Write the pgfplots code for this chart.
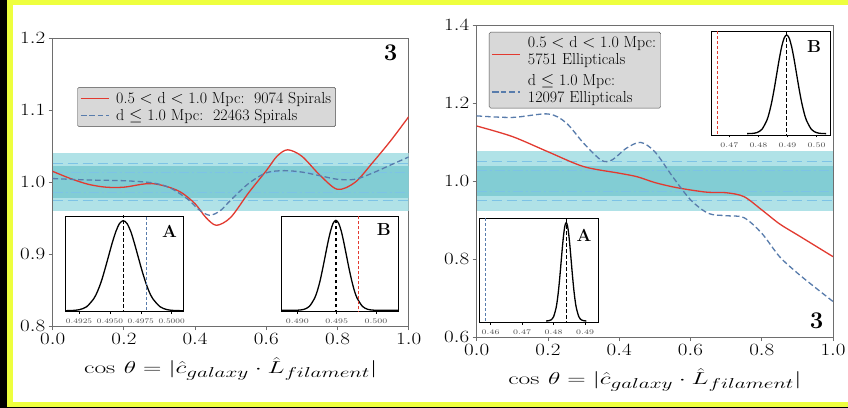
\documentclass[border=0pt]{standalone}
\usepackage{graphicx}
\usepackage{pgfplots}
\pgfplotsset{compat=1.18}
\usepackage{amsmath}
\definecolor{frameY}{HTML}{EEFF3E}
\definecolor{cRed}{RGB}{226,58,48}
\definecolor{cBlue}{RGB}{88,124,172}
\definecolor{bandOut}{RGB}{176,226,231}
\definecolor{bandIn}{RGB}{130,205,212}
\definecolor{bandLine}{RGB}{125,195,230}
\definecolor{axGray}{RGB}{110,110,110}
\definecolor{legFill}{RGB}{216,216,216}
\pgfplotsset{
  mainax/.style={scale only axis, xmin=0, xmax=1, clip=true,
    axis line style={axGray, line width=0.9bp},
    tick style={axGray, line width=0.9bp}, tick align=outside, major tick length=4bp,
    xtick pos=bottom, ytick pos=left,
    xtick={0,0.2,0.4,0.6,0.8,1.0},
    tick label style={font=\fontsize{17.5}{19}\selectfont, black},
    xticklabel={\scalebox{1.22}[1]{$\pgfmathprintnumber[fixed,fixed zerofill,precision=1]{\tick}$}},
    yticklabel={\scalebox{1.22}[1]{$\pgfmathprintnumber[fixed,fixed zerofill,precision=1]{\tick}$}},
    xlabel={\scalebox{1.48}[1]{$\cos\,\theta = |\hat{c}_{galaxy}\cdot\hat{L}_{filament}|$}},
    xlabel style={font=\fontsize{19}{21}\selectfont, yshift=-6bp},
    axis background/.style={fill=white},
    legend cell align=left,
    legend style={fill=legFill, draw=black!70, rounded corners=1.5pt,
      font=\fontsize{16}{16.5}\selectfont, inner sep=2.5pt, row sep=1pt,
      cells={align=left},
      /tikz/every odd column/.append style={column sep=5bp}},
  },
  inset/.style={scale only axis, clip=true,
    axis line style={black, line width=0.8bp},
    ytick=\empty, tick align=outside, xtick pos=bottom, major tick length=2.5bp,
    tick style={black, line width=0.6bp},
    tick label style={font=\fontsize{7.2}{8}\selectfont, black!70},
    xticklabel style={yshift=-1.5bp},
    axis background/.style={fill=white},
  },
  gcurve/.style={black, line width=1.3bp, smooth},
  peakline/.style={black, line width=1.3bp, dash pattern=on 3.5bp off 2.5bp},
  outband/.style={fill=bandOut, draw=none},
  inband/.style={fill=bandIn, draw=none},
  dline/.style={bandLine, line width=0.8bp, dash pattern=on 10bp off 5bp},
  ddline/.style={bandLine, line width=0.8bp, dash pattern=on 10bp off 3bp on 2bp off 3bp},
}
\begin{document}
\begin{tikzpicture}
\path[use as bounding box] (0bp,0bp) rectangle (848bp,408bp);
\fill[black] (0bp,0bp) rectangle (848bp,408bp);
\fill[frameY] (7bp,1bp) rectangle (848bp,408bp);
\fill[white] (13bp,6bp) rectangle (848bp,403bp);

% ---------------- left main panel
\begin{axis}[mainax, at={(52.7bp,82bp)}, anchor=south west, width=356bp, height=287.7bp,
  ymin=0.8, ymax=1.2, ytick={0.8,0.9,1.0,1.1,1.2},
  legend image code/.code={\draw[mark repeat=2,mark phase=2,#1,line width=1.3bp] plot coordinates {(0bp,0bp) (14bp,0bp) (28bp,0bp)};},
  legend style={at={(0.069,0.83)}, anchor=north west}]
\addplot[outband, forget plot] coordinates {(0,0.96) (1,0.96) (1,1.04) (0,1.04)} -- cycle;
\addplot[inband, forget plot] coordinates {(0,0.978) (1,0.978) (1,1.022) (0,1.022)} -- cycle;
\addplot[dline, forget plot] coordinates {(0,1.026) (1,1.026)};
\addplot[dline, forget plot] coordinates {(0,0.974) (1,0.974)};
\addplot[ddline, forget plot] coordinates {(0,1.0136) (1,1.0136)};
\addplot[ddline, forget plot] coordinates {(0,0.986) (1,0.986)};
\addplot[cRed, line width=1.3bp, smooth] coordinates {
 (0,1.015) (0.05,1.005) (0.1,0.997) (0.15,0.993) (0.2,0.993) (0.25,0.997) (0.28,0.998)
 (0.32,0.994) (0.36,0.986) (0.4,0.97) (0.43,0.951) (0.46,0.94) (0.5,0.951) (0.55,0.985)
 (0.6,1.016) (0.63,1.036) (0.66,1.045) (0.7,1.036) (0.75,1.010) (0.8,0.990) (0.85,1.0)
 (0.9,1.028) (0.95,1.058) (1.0,1.091)};
\addlegendentry{0.5 $<$ d $<$ 1.0 Mpc:\ \ 9074 Spirals}
\addplot[cBlue, line width=1.3bp, smooth, dash pattern=on 5.5bp off 3bp] coordinates {
 (0,1.005) (0.1,1.003) (0.2,1.002) (0.28,0.999) (0.33,0.992) (0.38,0.976) (0.41,0.962)
 (0.44,0.954) (0.47,0.96) (0.5,0.975) (0.55,0.998) (0.6,1.013) (0.65,1.016) (0.7,1.014)
 (0.75,1.009) (0.8,1.004) (0.85,1.004) (0.9,1.013) (0.95,1.024) (1.0,1.035)};
\addlegendentry{d $\leq$ 1.0 Mpc:\ \ 22463 Spirals}
\node[font=\bfseries\fontsize{24}{24}\selectfont] at (rel axis cs:0.949,0.95) {3};
\end{axis}

% inset A (left)
\begin{axis}[inset, at={(65.7bp,96.3bp)}, anchor=south west, width=117.6bp, height=95.7bp,
  xmin=0.49142, xmax=0.50094, ymin=-0.011, ymax=1.052,
  xtick={0.4925,0.4950,0.4975,0.5000},
  xticklabel={\scalebox{1.18}[1]{$\pgfmathprintnumber[fixed,fixed zerofill,precision=4]{\tick}$}}]
\addplot[gcurve] coordinates {
 (0.49132,0.0003) (0.49192,0.0022) (0.49251,0.0111) (0.49311,0.0439) (0.49370,0.1353)
 (0.49400,0.2163) (0.49430,0.3247) (0.49459,0.4578) (0.49489,0.6065) (0.49519,0.7548)
 (0.49549,0.8825) (0.49578,0.9692) (0.49608,1) (0.49638,0.9692) (0.49668,0.8825)
 (0.49697,0.7548) (0.49727,0.6065) (0.49757,0.4578) (0.49787,0.3247) (0.49816,0.2163)
 (0.49846,0.1353) (0.49906,0.0439) (0.49965,0.0111) (0.50025,0.0022) (0.50084,0.0003) (0.5012,0)};
\addplot[peakline] coordinates {(0.49608,-0.1) (0.49608,1.1)};
\addplot[cBlue, line width=1.1bp, dash pattern=on 3bp off 2bp] coordinates {(0.49798,-0.1) (0.49798,1.1)};
\node[font=\bfseries\fontsize{17.5}{17.5}\selectfont] at (rel axis cs:0.883,0.843) {A};
\end{axis}

% inset B (left)
\begin{axis}[inset, at={(281bp,96.7bp)}, anchor=south west, width=117.3bp, height=95bp,
  xmin=0.48792, xmax=0.50284, ymin=-0.011, ymax=1.045,
  xtick={0.490,0.495,0.500},
  xticklabel={\scalebox{1.25}[1]{$\pgfmathprintnumber[fixed,fixed zerofill,precision=3]{\tick}$}}]
\addplot[gcurve] coordinates {
 (0.4875,0) (0.4895,0.0003) (0.49018,0.0022) (0.49085,0.0111) (0.49153,0.0439) (0.4922,0.1353)
 (0.49254,0.2163) (0.49288,0.3247) (0.49321,0.4578) (0.49355,0.6065) (0.49389,0.7548)
 (0.49423,0.8825) (0.49456,0.9692) (0.4949,1) (0.49524,0.9692) (0.49558,0.8825)
 (0.49591,0.7548) (0.49625,0.6065) (0.49659,0.4578) (0.49693,0.3247) (0.49726,0.2163)
 (0.4976,0.1353) (0.49828,0.0439) (0.49895,0.0111) (0.49963,0.0022) (0.5003,0.0003) (0.5032,0)};
\addplot[peakline] coordinates {(0.4949,-0.1) (0.4949,1.1)};
\addplot[cRed, line width=1.1bp, dash pattern=on 3bp off 2bp] coordinates {(0.4978,-0.1) (0.4978,1.1)};
\node[font=\bfseries\fontsize{17.5}{17.5}\selectfont] at (rel axis cs:0.876,0.857) {B};
\end{axis}

% ---------------- right main panel
\begin{axis}[mainax, at={(476.7bp,71bp)}, anchor=south west, width=356.3bp, height=312bp,
  ymin=0.6, ymax=1.4, ytick={0.6,0.8,1.0,1.2,1.4},
  legend image code/.code={\draw[mark repeat=2,mark phase=2,#1,line width=1.3bp] plot coordinates {(0bp,-3bp) (14bp,-3bp) (28bp,-3bp)};},
  legend style={at={(0.0345,0.9776)}, anchor=north west, row sep=5pt}]
\addplot[outband, forget plot] coordinates {(0,0.924) (1,0.924) (1,1.076) (0,1.076)} -- cycle;
\addplot[inband, forget plot] coordinates {(0,0.962) (1,0.962) (1,1.039) (0,1.039)} -- cycle;
\addplot[dline, forget plot] coordinates {(0,1.05) (1,1.05)};
\addplot[dline, forget plot] coordinates {(0,0.949) (1,0.949)};
\addplot[ddline, forget plot] coordinates {(0,1.026) (1,1.026)};
\addplot[ddline, forget plot] coordinates {(0,0.973) (1,0.973)};
\addplot[cRed, line width=1.3bp, smooth] coordinates {
 (0,1.141) (0.1,1.114) (0.2,1.075) (0.3,1.037) (0.4,1.02) (0.45,1.011) (0.5,0.996)
 (0.55,0.985) (0.6,0.977) (0.65,0.971) (0.7,0.970) (0.75,0.96) (0.8,0.926) (0.85,0.89)
 (0.9,0.862) (0.95,0.834) (1.0,0.806)};
\addlegendentry{0.5 $<$ d $<$ 1.0 Mpc:\\5751 Ellipticals}
\addplot[cBlue, line width=1.3bp, smooth, dash pattern=on 5.5bp off 3bp] coordinates {
 (0,1.167) (0.1,1.163) (0.2,1.172) (0.25,1.150) (0.3,1.097) (0.35,1.053) (0.38,1.054)
 (0.42,1.084) (0.46,1.099) (0.5,1.075) (0.55,1.011) (0.6,0.952) (0.65,0.917) (0.7,0.911)
 (0.75,0.906) (0.8,0.866) (0.85,0.806) (0.9,0.764) (0.95,0.727) (1.0,0.691)};
\addlegendentry{d $\leq$ 1.0 Mpc:\\12097 Ellipticals}
\node[font=\bfseries\fontsize{24}{24}\selectfont] at (rel axis cs:0.954,0.053) {3};
\end{axis}

% inset A (right)
\begin{axis}[inset, at={(479bp,85.7bp)}, anchor=south west, width=119bp, height=104bp,
  xmin=0.4563, xmax=0.4941, ymin=-0.0136, ymax=1.044,
  xtick={0.46,0.47,0.48,0.49},
  xticklabel={\scalebox{1.25}[1]{$\pgfmathprintnumber[fixed,fixed zerofill,precision=2]{\tick}$}}]
\addplot[gcurve] coordinates {
 (0.4776,0.0003) (0.4784,0.0022) (0.4792,0.0111) (0.48,0.0439) (0.4808,0.1353)
 (0.4812,0.2163) (0.4816,0.3247) (0.482,0.4578) (0.4824,0.6065) (0.4828,0.7548)
 (0.4832,0.8825) (0.4836,0.9692) (0.484,1) (0.4844,0.9692) (0.4848,0.8825)
 (0.4852,0.7548) (0.4856,0.6065) (0.486,0.4578) (0.4864,0.3247) (0.4868,0.2163)
 (0.4872,0.1353) (0.488,0.0439) (0.4888,0.0111) (0.4896,0.0022) (0.4904,0.0003)};
\addplot[peakline] coordinates {(0.484,-0.1) (0.484,1.1)};
\addplot[cBlue, line width=1.1bp, dash pattern=on 3bp off 2bp] coordinates {(0.4584,-0.1) (0.4584,1.1)};
\node[font=\bfseries\fontsize{17.5}{17.5}\selectfont] at (rel axis cs:0.882,0.837) {A};
\end{axis}

% inset B (right)
\begin{axis}[inset, at={(711.3bp,273bp)}, anchor=south west, width=118.7bp, height=104bp,
  xmin=0.4638, xmax=0.5046, ymin=-0.0136, ymax=1.04,
  xtick={0.47,0.48,0.49,0.50},
  xticklabel={\scalebox{1.25}[1]{$\pgfmathprintnumber[fixed,fixed zerofill,precision=2]{\tick}$}}]
\addplot[gcurve] coordinates {
 (0.4761,0.0003) (0.4778,0.0022) (0.4795,0.0111) (0.4812,0.0439) (0.4829,0.1353)
 (0.48375,0.2163) (0.4846,0.3247) (0.48545,0.4578) (0.4863,0.6065) (0.48715,0.7548)
 (0.488,0.8825) (0.48885,0.9692) (0.4897,1) (0.49055,0.9692) (0.4914,0.8825)
 (0.49225,0.7548) (0.4931,0.6065) (0.49395,0.4578) (0.4948,0.3247) (0.49565,0.2163)
 (0.4965,0.1353) (0.4982,0.0439) (0.4999,0.0111) (0.5016,0.0022) (0.5033,0.0003)};
\addplot[peakline] coordinates {(0.4897,-0.1) (0.4897,1.1)};
\addplot[cRed, line width=1.1bp, dash pattern=on 3bp off 2bp] coordinates {(0.4659,-0.1) (0.4659,1.1)};
\node[font=\bfseries\fontsize{17.5}{17.5}\selectfont] at (rel axis cs:0.865,0.853) {B};
\end{axis}
\end{tikzpicture}
\end{document}
